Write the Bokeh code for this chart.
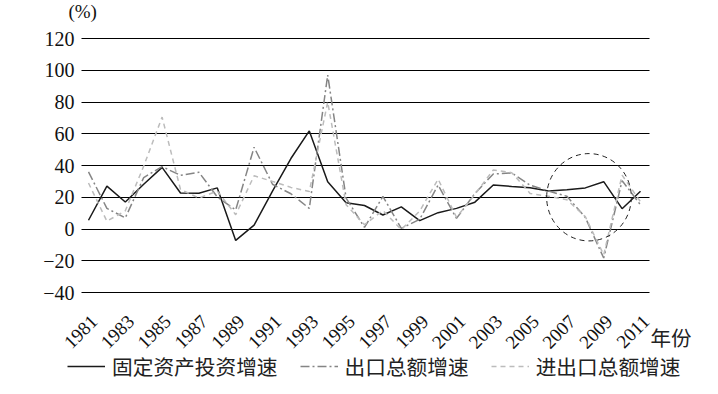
from bokeh.plotting import figure
from bokeh.models import FixedTicker, Legend, LegendItem, Label, Range1d
from bokeh.embed import file_html
from bokeh.resources import INLINE

# ---- data ----
years = list(range(1981, 2012))
fixed_invest = [5.5, 27.0, 17.0, 28.2, 38.8, 22.7, 22.5, 25.9, -7.2, 2.4, 23.9, 44.4, 61.8, 29.8,
                16.5, 14.8, 8.8, 13.9, 5.3, 10.3, 13.0, 16.9, 27.7, 26.8, 26.0, 23.9, 24.8, 25.9, 29.8, 12.8, 23.8]
export_growth = [36.0, 13.0, 7.0, 32.4, 39.3, 33.8, 35.8, 20.2, 12.0, 51.5, 28.2, 22.2, 13.0, 97.0,
                 19.5, 1.0, 20.5, 0.4, 6.1, 27.7, 6.7, 22.4, 34.7, 35.3, 27.6, 23.9, 20.6, 7.3, -18.3, 30.5, 15.2]
trade_growth = [29.0, 4.9, 11.5, 39.6, 70.5, 24.9, 19.5, 23.9, 9.0, 33.5, 30.0, 26.2, 23.6, 80.0,
                15.3, 2.7, 11.7, -0.4, 11.3, 31.4, 7.4, 21.8, 37.2, 35.5, 22.4, 20.6, 18.4, 7.8, -16.3, 33.9, 17.2]
x_ticks = list(range(1981, 2012, 2))
y_ticks = [-40, -20, 0, 20, 40, 60, 80, 100, 120]
series_names = ["固定资产投资增速", "出口总额增速", "进出口总额增速"]
y_unit_label = "(%)"
x_unit_label = "年份"
highlight = dict(year=2008.2, value=20.0, w=4.6, h=55.0)

# ---- layout constants ----
W, H = 708, 386
PX_PER_YEAR = 18.40
X_FIRST_PX = 88.0
PX_PER_UNIT = 1.5875
ZERO_PX = 228.5
x_start = 1981 - X_FIRST_PX / PX_PER_YEAR
x_end = 1981 + (W - X_FIRST_PX) / PX_PER_YEAR
y_top = ZERO_PX / PX_PER_UNIT
y_bottom = -(H - ZERO_PX) / PX_PER_UNIT
grid_x0, grid_x1 = 1980.62, 2011.49
grid_y0 = -40.5
label_shift_years = 0.3   # rotated year labels sit a little right of their ticks

SERIF = "Liberation Serif"
CJK = "Noto Sans CJK SC"

p = figure(width=W, height=H, output_backend="svg", toolbar_location=None,
           x_range=Range1d(x_start, x_end), y_range=Range1d(y_bottom, y_top),
           min_border=0)
p.extra_x_ranges = {"labels": Range1d(x_start - label_shift_years, x_end - label_shift_years)}
p.outline_line_color = None
p.xgrid.visible = False
p.ygrid.grid_line_color = "black"
p.ygrid.grid_line_width = 1
p.ygrid.grid_line_alpha = 1
p.ygrid.cross_bounds = (grid_x0, grid_x1)

p.yaxis.ticker = FixedTicker(ticks=y_ticks)
p.yaxis.major_label_overrides = {t: str(t).replace("-", "\u2212") for t in y_ticks}
p.yaxis.fixed_location = grid_x0
p.xaxis.ticker = FixedTicker(ticks=x_ticks)
p.xaxis.fixed_location = grid_y0
p.xaxis.x_range_name = "labels"
for ax in (p.xaxis, p.yaxis):
    ax.axis_line_color = None
    ax.major_tick_line_color = None
    ax.minor_tick_line_color = None
    ax.major_label_text_font = SERIF
    ax.major_label_text_color = "#111111"
p.yaxis.major_label_text_font_size = "20px"
p.yaxis.major_label_standoff = 1
p.xaxis.major_label_text_font_size = "19px"
p.xaxis.major_label_orientation = 0.785398
p.xaxis.major_label_standoff = 19

r1 = p.line(years, fixed_invest, line_color="#1a1a1a", line_width=1.5)
r2 = p.line(years, export_growth, line_color="#858585", line_width=1.5, line_dash="9 3 2 3")
r3 = p.line(years, trade_growth, line_color="#bcbcbc", line_width=1.5, line_dash="5 4")

p.ellipse(x=[highlight["year"]], y=[highlight["value"]], width=highlight["w"], height=highlight["h"],
          fill_color=None, line_color="#222222", line_width=1, line_dash="5 4")

legend = Legend(items=[LegendItem(label=series_names[0], renderers=[r1]),
                       LegendItem(label=series_names[1], renderers=[r2]),
                       LegendItem(label=series_names[2], renderers=[r3])],
                orientation="horizontal", location=(67, 5),
                glyph_width=38, glyph_height=22, label_standoff=7, spacing=22,
                padding=0, margin=0, border_line_color=None, background_fill_alpha=0,
                label_text_font=CJK, label_text_font_size="20.7px", label_text_color="#222222")
p.add_layout(legend, "center")

p.add_layout(Label(x=1979.91, y=143.5, text=y_unit_label, text_font=SERIF,
                   text_font_size="19px", text_color="#111111", text_baseline="top"))
p.add_layout(Label(x=2011.55, y=-58.5, text=x_unit_label, text_font=CJK,
                   text_font_size="20.5px", text_color="#222222", text_baseline="top"))

open("out.html", "w").write(file_html(p, INLINE))
